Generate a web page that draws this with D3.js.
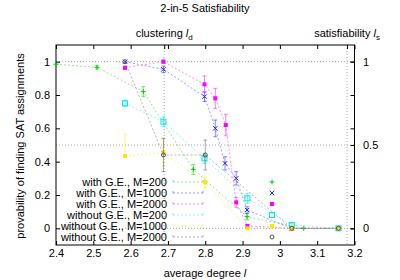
<!DOCTYPE html>
<html>
<head>
<meta charset="utf-8">
<script src="https://cdn.jsdelivr.net/npm/d3@7"></script>
<style>
  body { margin: 0; background: white; }
  text { font-family: "Liberation Sans", Arial, sans-serif; font-size: 11px; fill: black; }
</style>
</head>
<body>
<script>
// series: average degree l -> probability (error bars symmetric unless lo/hi given)
const greenX = [2.4, 2.51, 2.634, 2.768, 2.912, 3.064];
const greenP = [0.985, 0.966, 0.82, 0.354, 0.07, 0.0];
const greenE = [0, 0.01, 0.03, 0.03, 0.02, 0];

const blueX = [2.585, 2.688, 2.798, 2.827, 2.853, 2.883, 2.912, 3.032, 3.157];
const blueP = [1.0, 0.954, 0.79, 0.60, 0.39, 0.30, 0.11, 0.0, 0.0];
const blueE = [0, 0.02, 0.03, 0.05, 0.04, 0.04, 0.02, 0, 0];

const magX = [2.585, 2.688, 2.798, 2.827, 2.855, 2.883, 2.913, 3.032, 3.157];
const magP = [0.963, 1.0, 0.864, 0.78, 0.62, 0.156, 0.014, 0.0, 0.0];
const magE = [0.01, 0.01, 0.05, 0.06, 0.065, 0.03, 0.01, 0, 0];

const cyanX = [2.585, 2.688, 2.798, 2.913, 3.032, 3.157];
const cyanP = [0.75, 0.64, 0.42, 0.18, 0.02, 0.0];
const cyanE = [0.02, 0.03, 0.03, 0.03, 0.01, 0];

const yelX = [2.585, 2.688, 2.80, 2.913, 3.032, 3.157];
const yelP = [0.434, 0.454, 0.276, 0.0, 0.0, 0.0];
const yelLo = [0, 0.08, 0.03, 0, 0, 0];
const yelHi = [0.13, 0.08, 0.03, 0, 0, 0];

const grayX = [2.585, 2.688, 2.80, 3.032, 3.157];
const grayP = [1.0, 0.44, 0.44, 0.0, 0.0];
const grayE = [0, 0.1, 0.09, 0, 0];

const names = ["with G.E., M=200", "with G.E., M=1000", "with G.E., M=2000",
  "without G.E., M=200", "without G.E., M=1000", "without G.E., M=2000"];
const colors = ["#00cc00", "#2222ff", "#ff00ff", "#00e5e5", "#ffe600", "#555555"];
const markers = ["plus", "cross", "fsquare", "osquare", "fsquare", "circle"];

const xTicks = [2.4, 2.5, 2.6, 2.7, 2.8, 2.9, 3.0, 3.1, 3.2];
const yTicks = [0, 0.2, 0.4, 0.6, 0.8, 1];
const y2Ticks = [0, 0.5, 1];
const lD = 2.69, lS = 3.18;

const series = [
  {x: greenX, p: greenP, lo: greenE, hi: greenE},
  {x: blueX, p: blueP, lo: blueE, hi: blueE},
  {x: magX, p: magP, lo: magE, hi: magE},
  {x: cyanX, p: cyanP, lo: cyanE, hi: cyanE},
  {x: yelX, p: yelP, lo: yelLo, hi: yelHi},
  {x: grayX, p: grayP, lo: grayE, hi: grayE}
];

const width = 400, height = 280;
const pLeft = 56, pRight = 354.5, pTop = 45, pBottom = 245;

const svg = d3.select("body").append("svg")
  .attr("width", width).attr("height", height);

const x = d3.scaleLinear().domain([2.4, 3.2]).range([pLeft, pRight]);
const y = d3.scaleLinear().domain([-0.1, 1.1]).range([pBottom, pTop]);

// grid lines
const grid = svg.append("g").attr("stroke", "#a8a8a8").attr("stroke-dasharray", "1,2");
y2Ticks.forEach(v => grid.append("line")
  .attr("x1", pLeft).attr("x2", pRight).attr("y1", y(v)).attr("y2", y(v)));
[lD, lS].forEach(v => grid.append("line")
  .attr("x1", x(v)).attr("x2", x(v)).attr("y1", pTop).attr("y2", pBottom));

// axes
function style(g) {
  g.select(".domain").remove();
  g.selectAll("line").attr("stroke", "black");
  g.selectAll("text").style("font-size", "11px");
}
svg.append("g").attr("transform", `translate(0,${pBottom})`)
  .call(d3.axisBottom(x).tickValues(xTicks).tickSizeInner(-4).tickSizeOuter(0)
    .tickPadding(4).tickFormat(d => d3.format("")(+d.toFixed(1))))
  .call(style);
svg.append("g").attr("transform", `translate(0,${pTop})`)
  .call(d3.axisTop(x).tickValues(xTicks.concat([lD, lS])).tickSizeInner(-4).tickSizeOuter(0).tickFormat(""))
  .call(style);
svg.append("g").attr("transform", `translate(${pLeft},0)`)
  .call(d3.axisLeft(y).tickValues(yTicks).tickSizeInner(-4).tickSizeOuter(0).tickPadding(6)
    .tickFormat(d => d3.format("")(+d.toFixed(1))))
  .call(style);
svg.append("g").attr("transform", `translate(${pRight},0)`)
  .call(d3.axisRight(y).tickValues(yTicks).tickSizeInner(-4).tickSizeOuter(0).tickFormat(""))
  .call(style);
svg.append("g").attr("transform", `translate(${pRight},0)`)
  .call(d3.axisRight(y).tickValues(y2Ticks).tickSizeInner(-4).tickSizeOuter(0).tickPadding(8.5)
    .tickFormat(d => d3.format("")(d)))
  .call(style);

svg.append("rect")
  .attr("x", pLeft).attr("y", pTop).attr("width", pRight - pLeft).attr("height", pBottom - pTop)
  .attr("fill", "none").attr("stroke", "black");

// titles
svg.append("text").attr("x", 205).attr("y", 12).attr("text-anchor", "middle")
  .text("2-in-5 Satisfiability");
const t1 = svg.append("text").attr("x", x(lD)).attr("y", 37).attr("text-anchor", "middle");
t1.append("tspan").text("clustering ");
t1.append("tspan").attr("font-style", "italic").text("l");
t1.append("tspan").attr("dy", 3).style("font-size", "8px").text("d");
const t2 = svg.append("text").attr("x", x(lS)).attr("y", 37).attr("text-anchor", "middle");
t2.append("tspan").text("satisfiability ");
t2.append("tspan").attr("font-style", "italic").text("l");
t2.append("tspan").attr("dy", 3).style("font-size", "8px").text("s");
const xl = svg.append("text").attr("x", 205).attr("y", 277).attr("text-anchor", "middle");
xl.append("tspan").text("average degree ");
xl.append("tspan").attr("font-style", "italic").text("l");
svg.append("text").attr("transform", "translate(24,146) rotate(-90)")
  .attr("text-anchor", "middle").text("provability of finding SAT assignments");

// markers
function marker(g, type, color, cx, cy) {
  if (type == "plus") {
    g.append("path").attr("d", `M${cx-2.5},${cy}H${cx+2.5}M${cx},${cy-2.5}V${cy+2.5}`)
      .attr("stroke", color).attr("fill", "none");
  } else if (type == "cross") {
    g.append("path").attr("d", `M${cx-2.2},${cy-2.2}L${cx+2.2},${cy+2.2}M${cx-2.2},${cy+2.2}L${cx+2.2},${cy-2.2}`)
      .attr("stroke", color).attr("fill", "none");
  } else if (type == "fsquare") {
    g.append("rect").attr("x", cx - 2).attr("y", cy - 2).attr("width", 4).attr("height", 4)
      .attr("fill", color);
  } else if (type == "osquare") {
    g.append("rect").attr("x", cx - 2.5).attr("y", cy - 2.5).attr("width", 5).attr("height", 5)
      .attr("fill", "none").attr("stroke", color);
  } else {
    g.append("circle").attr("cx", cx).attr("cy", cy).attr("r", 2)
      .attr("fill", "none").attr("stroke", color);
  }
}

const line = d3.line().x(d => x(d[0])).y(d => y(d[1]));

series.forEach((s, k) => {
  const c = colors[k];
  const g = svg.append("g");
  const pts = s.x.map((v, i) => [v, s.p[i]]);
  g.append("path").attr("d", line(pts)).attr("fill", "none")
    .attr("stroke", c).attr("stroke-width", 0.8).attr("stroke-opacity", 0.55)
    .attr("stroke-dasharray", "2,2");
  pts.forEach((d, i) => {
    if (s.lo[i] > 0 || s.hi[i] > 0) {
      const cx = x(d[0]), y1 = y(d[1] - s.lo[i]), y2 = y(d[1] + s.hi[i]);
      g.append("path")
        .attr("d", `M${cx},${y1}V${y2}M${cx-2},${y1}H${cx+2}M${cx-2},${y2}H${cx+2}`)
        .attr("stroke", c).attr("stroke-width", 0.8).attr("stroke-opacity", 0.65).attr("fill", "none");
    }
    marker(g, markers[k], c, x(d[0]), y(d[1]));
  });
});

// legend
names.forEach((n, k) => {
  const ly = 182 + 11 * k;
  const g = svg.append("g");
  g.append("text").attr("x", 167).attr("y", ly).attr("dy", "0.35em")
    .attr("text-anchor", "end").text(n);
  g.append("path").attr("d", `M173,${ly}H203M173,${ly-2}V${ly+2}M203,${ly-2}V${ly+2}`)
    .attr("stroke", colors[k]).attr("stroke-width", 0.8).attr("stroke-opacity", 0.6)
    .attr("stroke-dasharray", "2,2").attr("fill", "none");
  marker(g, markers[k], colors[k], 272, ly);
});
</script>
</body>
</html>
